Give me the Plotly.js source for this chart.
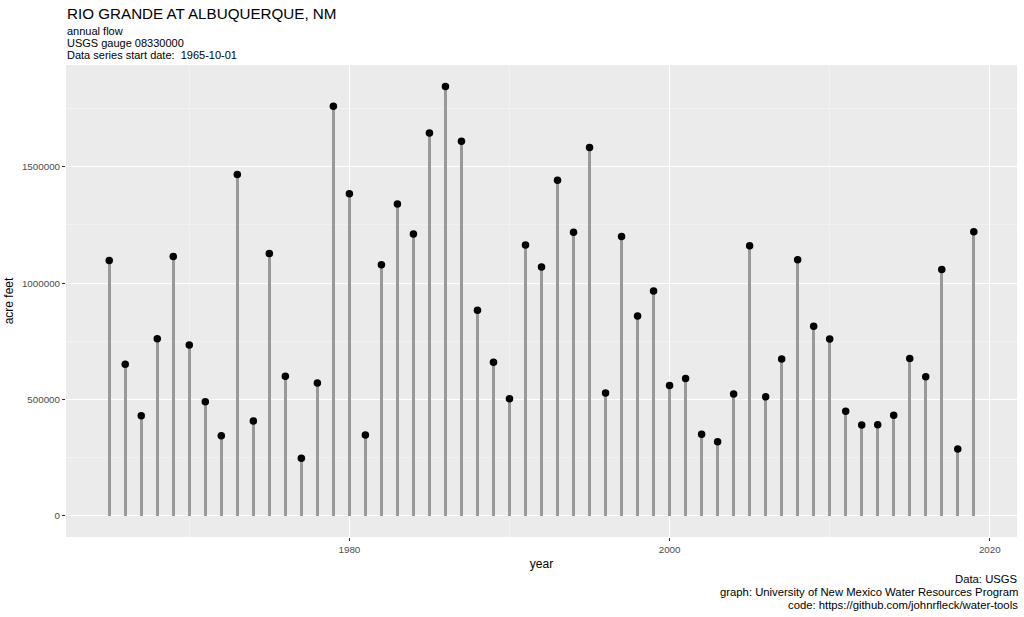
<!DOCTYPE html>
<html>
<head>
<meta charset="utf-8">
<script src="https://cdn.plot.ly/plotly-3.0.1.min.js"></script>
<style>html,body{margin:0;padding:0;background:#fff;}#chart{width:1024px;height:617px;}</style>
</head>
<body>
<div id="chart"></div>
<script>
const years = [1965,1966,1967,1968,1969,1970,1971,1972,1973,1974,1975,1976,1977,1978,1979,1980,1981,1982,1983,1984,1985,1986,1987,1988,1989,1990,1991,1992,1993,1994,1995,1996,1997,1998,1999,2000,2001,2002,2003,2004,2005,2006,2007,2008,2009,2010,2011,2012,2013,2014,2015,2016,2017,2018,2019];
const acreFeet = [1097000,651000,429000,761000,1114000,734000,490000,343000,1467000,407000,1127000,599000,247000,570000,1761000,1384000,346000,1079000,1340000,1211000,1646000,1846000,1610000,883000,659000,503000,1164000,1069000,1443000,1219000,1583000,527000,1200000,859000,966000,560000,590000,350000,317000,523000,1161000,511000,674000,1101000,814000,760000,449000,390000,391000,431000,676000,597000,1059000,286000,1221000];
const xTickVals = [1980, 2000, 2020];
const xTickText = ["1980", "2000", "2020"];
const yTickVals = [0, 500000, 1000000, 1500000];
const yTickText = ["0", "500000", "1000000", "1500000"];
const titleText = "RIO GRANDE AT ALBUQUERQUE, NM";
const subtitleLines = ["annual flow", "USGS gauge 08330000", "Data series start date:\u00a0\u00a01965-10-01"];
const captionLines = ["Data: USGS", "graph: University of New Mexico Water Resources Program", "code: https://github.com/johnrfleck/water-tools"];

const FONT = "Liberation Sans, Arial, Helvetica, sans-serif";
const plotTop = 65, plotBottom = 537, H = plotBottom - plotTop;
const plotLeft = 66, plotRight = 1017, W = plotRight - plotLeft;
function py(pix){ return (plotBottom - pix) / H; }
function px(pix){ return (pix - plotLeft) / W; }

const stems = {
  type: "bar", x: years, y: acreFeet, width: 0.2,
  marker: {color: "#999999", line: {width: 0}},
  hoverinfo: "skip", showlegend: false
};
const dots = {
  type: "scatter", mode: "markers", x: years, y: acreFeet,
  marker: {color: "#000000", size: 7.5},
  showlegend: false
};

const annotations = [];
annotations.push({text: titleText, xref: "paper", yref: "paper", x: px(65), y: py(14), xanchor: "left", yanchor: "middle", showarrow: false, font: {family: FONT, size: 15.2, color: "#000"}});
const subY = [31, 43, 55];
subtitleLines.forEach((t, i) => annotations.push({text: t, xref: "paper", yref: "paper", x: px(65), y: py(subY[i]), xanchor: "left", yanchor: "middle", showarrow: false, font: {family: FONT, size: 11, color: "#000"}}));
const capY = [579, 592, 605];
captionLines.forEach((t, i) => annotations.push({text: t, xref: "paper", yref: "paper", x: px(1020), y: py(capY[i]), xanchor: "right", yanchor: "middle", showarrow: false, font: {family: FONT, size: 11.3, color: "#000"}}));

const layout = {
  width: 1024, height: 617,
  margin: {l: plotLeft, r: 1024 - plotRight, t: plotTop, b: 617 - plotBottom, pad: 0},
  paper_bgcolor: "#ffffff", plot_bgcolor: "#EBEBEB",
  font: {family: FONT},
  bargap: 0,
  xaxis: {
    range: [1962.3, 2021.7], tickmode: "array", tickvals: xTickVals, ticktext: xTickText,
    showgrid: true, gridcolor: "#ffffff", gridwidth: 1.1,
    minor: {tickmode: "array", tickvals: [1970, 1990, 2010], showgrid: true, gridcolor: "#F5F5F5", gridwidth: 0.6, ticks: ""},
    zeroline: false, showline: false,
    ticks: "outside", ticklen: 3, tickcolor: "#333333", tickwidth: 1,
    tickfont: {family: FONT, size: 9.8, color: "#4D4D4D"},
    title: {text: "year", font: {family: FONT, size: 12, color: "#000"}, standoff: 5}
  },
  yaxis: {
    range: [-92300, 1938300], tickmode: "array", tickvals: yTickVals, ticktext: yTickText,
    showgrid: true, gridcolor: "#ffffff", gridwidth: 1.1,
    minor: {tickmode: "array", tickvals: [250000, 750000, 1250000, 1750000], showgrid: true, gridcolor: "#F5F5F5", gridwidth: 0.6, ticks: ""},
    zeroline: false, showline: false,
    ticks: "outside", ticklen: 3, tickcolor: "#333333", tickwidth: 1,
    tickfont: {family: FONT, size: 9.8, color: "#4D4D4D"},
    title: {text: "acre feet", font: {family: FONT, size: 12, color: "#000"}, standoff: 5}
  },
  annotations: annotations
};

Plotly.newPlot("chart", [stems, dots], layout, {displayModeBar: false, staticPlot: true});
</script>
</body>
</html>
